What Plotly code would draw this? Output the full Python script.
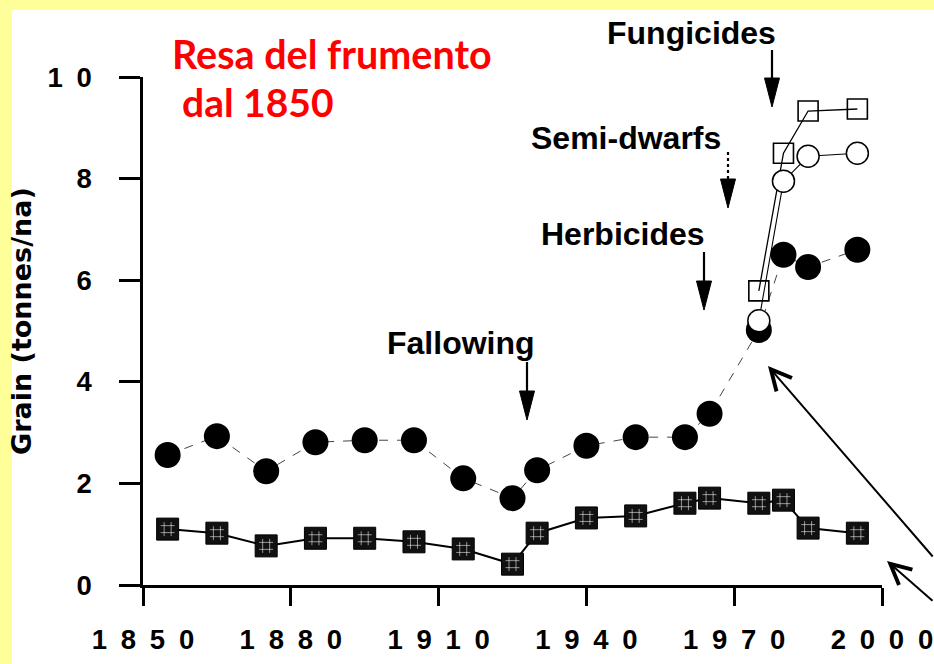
import plotly.graph_objects as go

# ---------------- data ----------------
years_long = [1855, 1865, 1875, 1885, 1895, 1905, 1915, 1925, 1930,
              1940, 1950, 1960, 1965, 1975, 1980, 1985, 1995]
yield_filled = [2.56, 2.93, 2.24, 2.81, 2.85, 2.85, 2.10, 1.71, 2.26,
                2.74, 2.91, 2.91, 3.37, 5.02, 6.50, 6.26, 6.60]
yield_hatched = [1.10, 1.02, 0.77, 0.92, 0.92, 0.85, 0.71, 0.41, 1.02,
                 1.32, 1.36, 1.61, 1.71, 1.61, 1.67, 1.12, 1.02]
years_recent = [1975, 1980, 1985, 1995]
yield_open_circle = [5.20, 7.95, 8.44, 8.50]
yield_open_square = [5.79, 8.50, 9.33, 9.37]

x_tickvals = [1850, 1880, 1910, 1940, 1970, 2000]
x_ticktext = ["\u2002".join(str(v)) for v in x_tickvals]
y_tickvals = [0, 2, 4, 6, 8, 10]
y_ticktext = ["\u2002".join(str(v)) for v in y_tickvals]

events = ["Fungicides", "Semi-dwarfs", "Herbicides", "Fallowing"]

# ---------------- geometry (window pixels; body margin removed) ----------------
W, H = 934, 664
L, R, T, B = 143, 52, 77, 79
PW, PH = W - L - R, H - T - B
X0, X1, Y0, Y1 = 1850, 2000, 0, 10


def px2p(px):
    return (px - L) / PW


def py2p(py):
    return (H - B - py) / PH


fig = go.Figure()

# filled circles, dashed thin line
fig.add_trace(go.Scatter(
    x=years_long, y=yield_filled, mode="lines+markers",
    line=dict(color="#444", width=1, dash="dash"),
    marker=dict(symbol="circle", size=26, color="black"),
    cliponaxis=False, showlegend=False))

# hatched squares, solid line
fig.add_trace(go.Scatter(
    x=years_long, y=yield_hatched, mode="lines+markers",
    line=dict(color="black", width=2),
    marker=dict(symbol="square", size=22, color="#111",
                line=dict(color="black", width=1)),
    cliponaxis=False, showlegend=False))
fig.add_trace(go.Scatter(
    x=years_long, y=yield_hatched, mode="markers",
    marker=dict(symbol="hash-open", size=14, color="rgba(255,255,255,0.55)",
                line=dict(width=1)),
    cliponaxis=False, showlegend=False, hoverinfo="skip"))

# open squares
fig.add_trace(go.Scatter(
    x=years_recent, y=yield_open_square, mode="lines+markers",
    line=dict(color="black", width=1.3),
    marker=dict(symbol="square-open", size=20, color="black",
                line=dict(width=1.6)),
    cliponaxis=False, showlegend=False))

# open circles
fig.add_trace(go.Scatter(
    x=years_recent, y=yield_open_circle, mode="lines+markers",
    line=dict(color="black", width=1.1),
    marker=dict(symbol="circle", size=22, color="white",
                line=dict(color="black", width=1.5)),
    cliponaxis=False, showlegend=False))

shapes = []
annotations = []

# yellow frame on left/top
yellow = "#FFFF99"
shapes.append(dict(type="rect", xref="paper", yref="paper", layer="below",
                   x0=px2p(0), x1=px2p(12), y0=py2p(H), y1=py2p(0),
                   fillcolor=yellow, line=dict(width=0)))
shapes.append(dict(type="rect", xref="paper", yref="paper", layer="below",
                   x0=px2p(0), x1=px2p(W), y0=py2p(10), y1=py2p(0),
                   fillcolor=yellow, line=dict(width=0)))

# event labels and down arrows (window pixel positions)
label_pos = [(691, 33), (626, 138), (623, 234), (461, 343)]
arrow_pos = [(772, 50, 107), (728, 152, 208), (704, 252, 310), (527, 362, 420)]
for name, (tx, ty), (ax, ay0, ay1) in zip(events, label_pos, arrow_pos):
    annotations.append(dict(
        text=name, x=px2p(tx), y=py2p(ty), xref="paper", yref="paper",
        showarrow=False, xanchor="center", yanchor="middle",
        font=dict(family="Liberation Sans, Arial", size=32, color="black",
                  weight="bold")))
    head_len, head_w = 29, 15
    shapes.append(dict(
        type="line", xref="paper", yref="paper",
        x0=px2p(ax), x1=px2p(ax), y0=py2p(ay0), y1=py2p(ay1 - head_len + 2),
        line=dict(color="black", width=2.2,
                  dash="dot" if name == "Semi-dwarfs" else "solid")))
    shapes.append(dict(
        type="path", xref="paper", yref="paper",
        path=(f"M{px2p(ax - head_w / 2)},{py2p(ay1 - head_len)} "
              f"L{px2p(ax + head_w / 2)},{py2p(ay1 - head_len)} "
              f"L{px2p(ax)},{py2p(ay1)} Z"),
        fillcolor="black", line=dict(color="black", width=1)))

# long pointer arrows on the right
annotations.append(dict(
    x=px2p(768), y=py2p(366), xref="paper", yref="paper", text="",
    showarrow=True, arrowhead=5, arrowsize=2.0, arrowwidth=2, arrowcolor="black",
    ax=185, ay=192, axref="pixel", ayref="pixel"))
annotations.append(dict(
    x=px2p(887), y=py2p(561), xref="paper", yref="paper", text="",
    showarrow=True, arrowhead=5, arrowsize=2.0, arrowwidth=2, arrowcolor="black",
    ax=62, ay=41, axref="pixel", ayref="pixel"))

# red title
annotations.append(dict(
    text="Resa del frumento", xref="paper", yref="paper",
    x=px2p(170), y=py2p(53), xanchor="left", yanchor="middle", showarrow=False,
    font=dict(family="Lato, Open Sans", size=39.5, color="#FF0000", weight="bold")))
annotations.append(dict(
    text="dal 1850", xref="paper", yref="paper",
    x=px2p(180), y=py2p(102), xanchor="left", yanchor="middle", showarrow=False,
    font=dict(family="Lato, Open Sans", size=39, color="#FF0000", weight="bold")))

# y axis title
annotations.append(dict(
    text="Grain (tonnes/na)", xref="paper", yref="paper",
    x=px2p(21), y=py2p(321), xanchor="center", yanchor="middle",
    textangle=-90, showarrow=False,
    font=dict(family="DejaVu Sans", size=27, color="black", weight="bold")))

tickfont = dict(family="Liberation Sans, Arial", size=27.5, color="black", weight="bold")

fig.update_layout(
    width=W, height=H,
    margin=dict(l=L, r=R, t=T, b=B, pad=0, autoexpand=False),
    paper_bgcolor="white", plot_bgcolor="white",
    shapes=shapes, annotations=annotations,
    xaxis=dict(range=[X0, X1], showgrid=False, zeroline=False, automargin=False,
               showline=True, linecolor="black", linewidth=2.5,
               ticks="outside", ticklen=18, tickwidth=2.5, tickcolor="black",
               tickvals=x_tickvals, ticktext=x_ticktext, tickfont=tickfont,
               ticklabelstandoff=10, ticklabeloverflow="allow"),
    yaxis=dict(range=[Y0, Y1], showgrid=False, zeroline=False, automargin=False,
               showline=True, linecolor="black", linewidth=2.5,
               ticks="outside", ticklen=21, tickwidth=2.5, tickcolor="black",
               tickvals=y_tickvals, ticktext=y_ticktext, tickfont=tickfont,
               ticklabelstandoff=22, ticklabeloverflow="allow"),
)

fig.write_html(
    "out.html",
    config={"displayModeBar": False},
    post_script="document.body.style.margin='0px';",
)
